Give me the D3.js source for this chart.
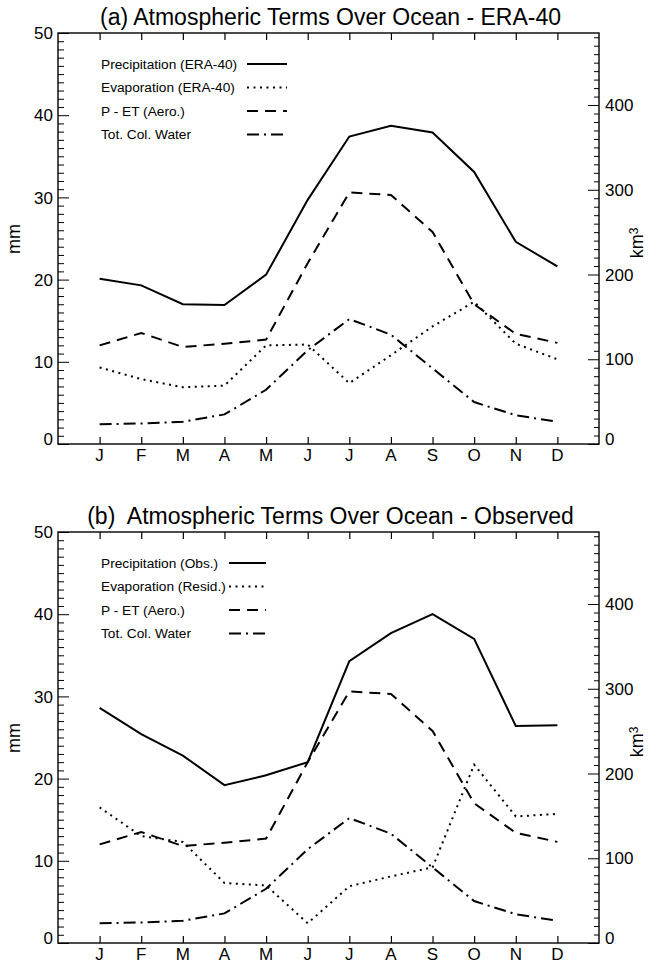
<!DOCTYPE html>
<html>
<head>
<meta charset="utf-8">
<script src="https://cdn.jsdelivr.net/npm/d3@7"></script>
<style>
  html, body { margin: 0; padding: 0; background: #fff; }
  svg text { font-family: "Liberation Sans", Arial, Helvetica, sans-serif; fill: #000; }
</style>
</head>
<body>
<svg id="chart" width="650" height="963"></svg>
<script>
// ---------------- data ----------------
const months = ["J","F","M","A","M","J","J","A","S","O","N","D"];
const precipERA  = [20.1, 19.3, 17.0, 16.9, 20.6, 29.7, 37.4, 38.7, 37.9, 33.1, 24.6, 21.6];
const evapERA    = [9.3, 7.9, 6.9, 7.1, 12.0, 12.1, 7.4, 10.8, 14.3, 17.3, 12.2, 10.3];
const pMinusET   = [12.0, 13.5, 11.8, 12.2, 12.7, 22.0, 30.6, 30.3, 25.8, 17.0, 13.4, 12.3];
const totColWater= [2.4, 2.5, 2.7, 3.6, 6.6, 11.4, 15.2, 13.3, 9.2, 5.1, 3.5, 2.7];
const precipObs  = [28.6, 25.4, 22.8, 19.2, 20.4, 22.0, 34.3, 37.7, 40.0, 37.0, 26.4, 26.5];
const evapResid  = [16.5, 13.0, 12.3, 7.3, 7.0, 2.4, 6.9, 8.1, 9.2, 21.7, 15.4, 15.7];

const leftTicks  = [0, 10, 20, 30, 40, 50];
const rightTicks = [0, 100, 200, 300, 400];
const mmDomain = [0, 50];
const km3Domain = [0, 485];

const panelA = {
  title: "(a) Atmospheric Terms Over Ocean - ERA-40",
  series: [
    {name: "Precipitation (ERA-40)", values: precipERA, style: "solid"},
    {name: "Evaporation (ERA-40)", values: evapERA, style: "dot"},
    {name: "P - ET (Aero.)", values: pMinusET, style: "dash"},
    {name: "Tot. Col. Water", values: totColWater, style: "dashdot"}
  ]
};
const panelB = {
  title: "(b)  Atmospheric Terms Over Ocean - Observed",
  series: [
    {name: "Precipitation (Obs.)", values: precipObs, style: "solid"},
    {name: "Evaporation (Resid.)", values: evapResid, style: "dot"},
    {name: "P - ET (Aero.)", values: pMinusET, style: "dash"},
    {name: "Tot. Col. Water", values: totColWater, style: "dashdot"}
  ]
};

// ---------------- layout ----------------
const svg = d3.select("#chart");
const L = 58, R = 599, H = 411;
const dashes = {solid: null, dot: "2,4.5", dash: "11,7", dashdot: "12,5,2,5"};

function drawPanel(p, top, legendX1, legendX2) {
  const bottom = top + H;
  const g = svg.append("g");
  const x = d3.scaleLinear().domain([0, 13]).range([L, R]);
  const y = d3.scaleLinear().domain(mmDomain).range([bottom, top]);
  const y2 = d3.scaleLinear().domain(km3Domain).range([bottom, top]);

  // title
  g.append("text").attr("x", (L + R) / 2 + 2).attr("y", top - 8)
    .attr("text-anchor", "middle").style("font-size", "23px")
    .style("white-space", "pre").attr("xml:space", "preserve").text(p.title);

  // left axis
  const la = g.append("g").attr("transform", `translate(${L},0)`)
    .call(d3.axisLeft(y).tickValues(d3.range(0, 51, 1)).tickSize(-6).tickFormat(""));
  la.select(".domain").remove();
  la.selectAll(".tick line").attr("stroke", "#000").attr("stroke-width", 1)
    .filter(d => d % 10 === 0).attr("x2", 11);
  leftTicks.forEach(v => {
    g.append("text").attr("x", L - 5).attr("y", y(v) - (v === 0 ? 5 : 0))
      .attr("dy", "0.36em").attr("text-anchor", "end").style("font-size", "17px").text(v);
  });

  // right axis
  const ra = g.append("g").attr("transform", `translate(${R},0)`)
    .call(d3.axisRight(y2).tickValues(d3.range(0, 481, 10)).tickSize(-5).tickFormat(""));
  ra.select(".domain").remove();
  ra.selectAll(".tick line").attr("stroke", "#000").attr("stroke-width", 1)
    .filter(d => d % 100 === 0).attr("x2", -11);
  rightTicks.forEach(v => {
    g.append("text").attr("x", R + 6).attr("y", y2(v) - (v === 0 ? 5 : 0))
      .attr("dy", "0.36em").attr("text-anchor", "start").style("font-size", "17px").text(v);
  });

  // bottom / top axes with month ticks
  const ba = g.append("g").attr("transform", `translate(0,${bottom})`)
    .call(d3.axisBottom(x).tickValues(d3.range(1, 13)).tickSize(-7).tickFormat(""));
  ba.select(".domain").remove();
  ba.selectAll(".tick line").attr("stroke", "#000").attr("stroke-width", 1.2);
  const ta = g.append("g").attr("transform", `translate(0,${top})`)
    .call(d3.axisTop(x).tickValues(d3.range(1, 13)).tickSize(-7).tickFormat(""));
  ta.select(".domain").remove();
  ta.selectAll(".tick line").attr("stroke", "#000").attr("stroke-width", 1.2);

  months.forEach((m, i) => {
    g.append("text").attr("x", x(i + 1)).attr("y", bottom + 11)
      .attr("dy", "0.36em").attr("text-anchor", "middle").style("font-size", "17px").text(m);
  });

  // frame
  g.append("rect").attr("x", L).attr("y", top).attr("width", R - L).attr("height", H)
    .attr("fill", "none").attr("stroke", "#000").attr("stroke-width", 1.4);

  // axis titles
  const midY = top + 206;
  g.append("text").attr("transform", `translate(20,${midY}) rotate(-90)`)
    .attr("text-anchor", "middle").style("font-size", "18px").text("mm");
  const kt = g.append("text").attr("transform", `translate(643,${midY + 4}) rotate(-90)`)
    .attr("text-anchor", "middle").style("font-size", "18px");
  kt.append("tspan").text("km");
  kt.append("tspan").attr("dy", "-0.45em").style("font-size", "12px").text("3");

  // series
  const line = d3.line().x((d, i) => x(i + 1)).y(d => y(d));
  p.series.forEach(s => {
    g.append("path").datum(s.values).attr("d", line)
      .attr("fill", "none").attr("stroke", "#000").attr("stroke-width", 2)
      .attr("stroke-linejoin", "miter")
      .attr("stroke-dasharray", dashes[s.style]);
  });

  // legend
  p.series.forEach((s, i) => {
    const ly = top + 31 + i * 23.5;
    g.append("text").attr("x", 101).attr("y", ly).attr("dy", "0.36em")
      .style("font-size", "13.7px").text(s.name);
    g.append("line").attr("x1", legendX1).attr("x2", legendX2).attr("y1", ly).attr("y2", ly)
      .attr("stroke", "#000").attr("stroke-width", 2)
      .attr("stroke-dasharray", dashes[s.style]);
  });
}

drawPanel(panelA, 33, 247, 287);
drawPanel(panelB, 532, 229, 266);
</script>
</body>
</html>
